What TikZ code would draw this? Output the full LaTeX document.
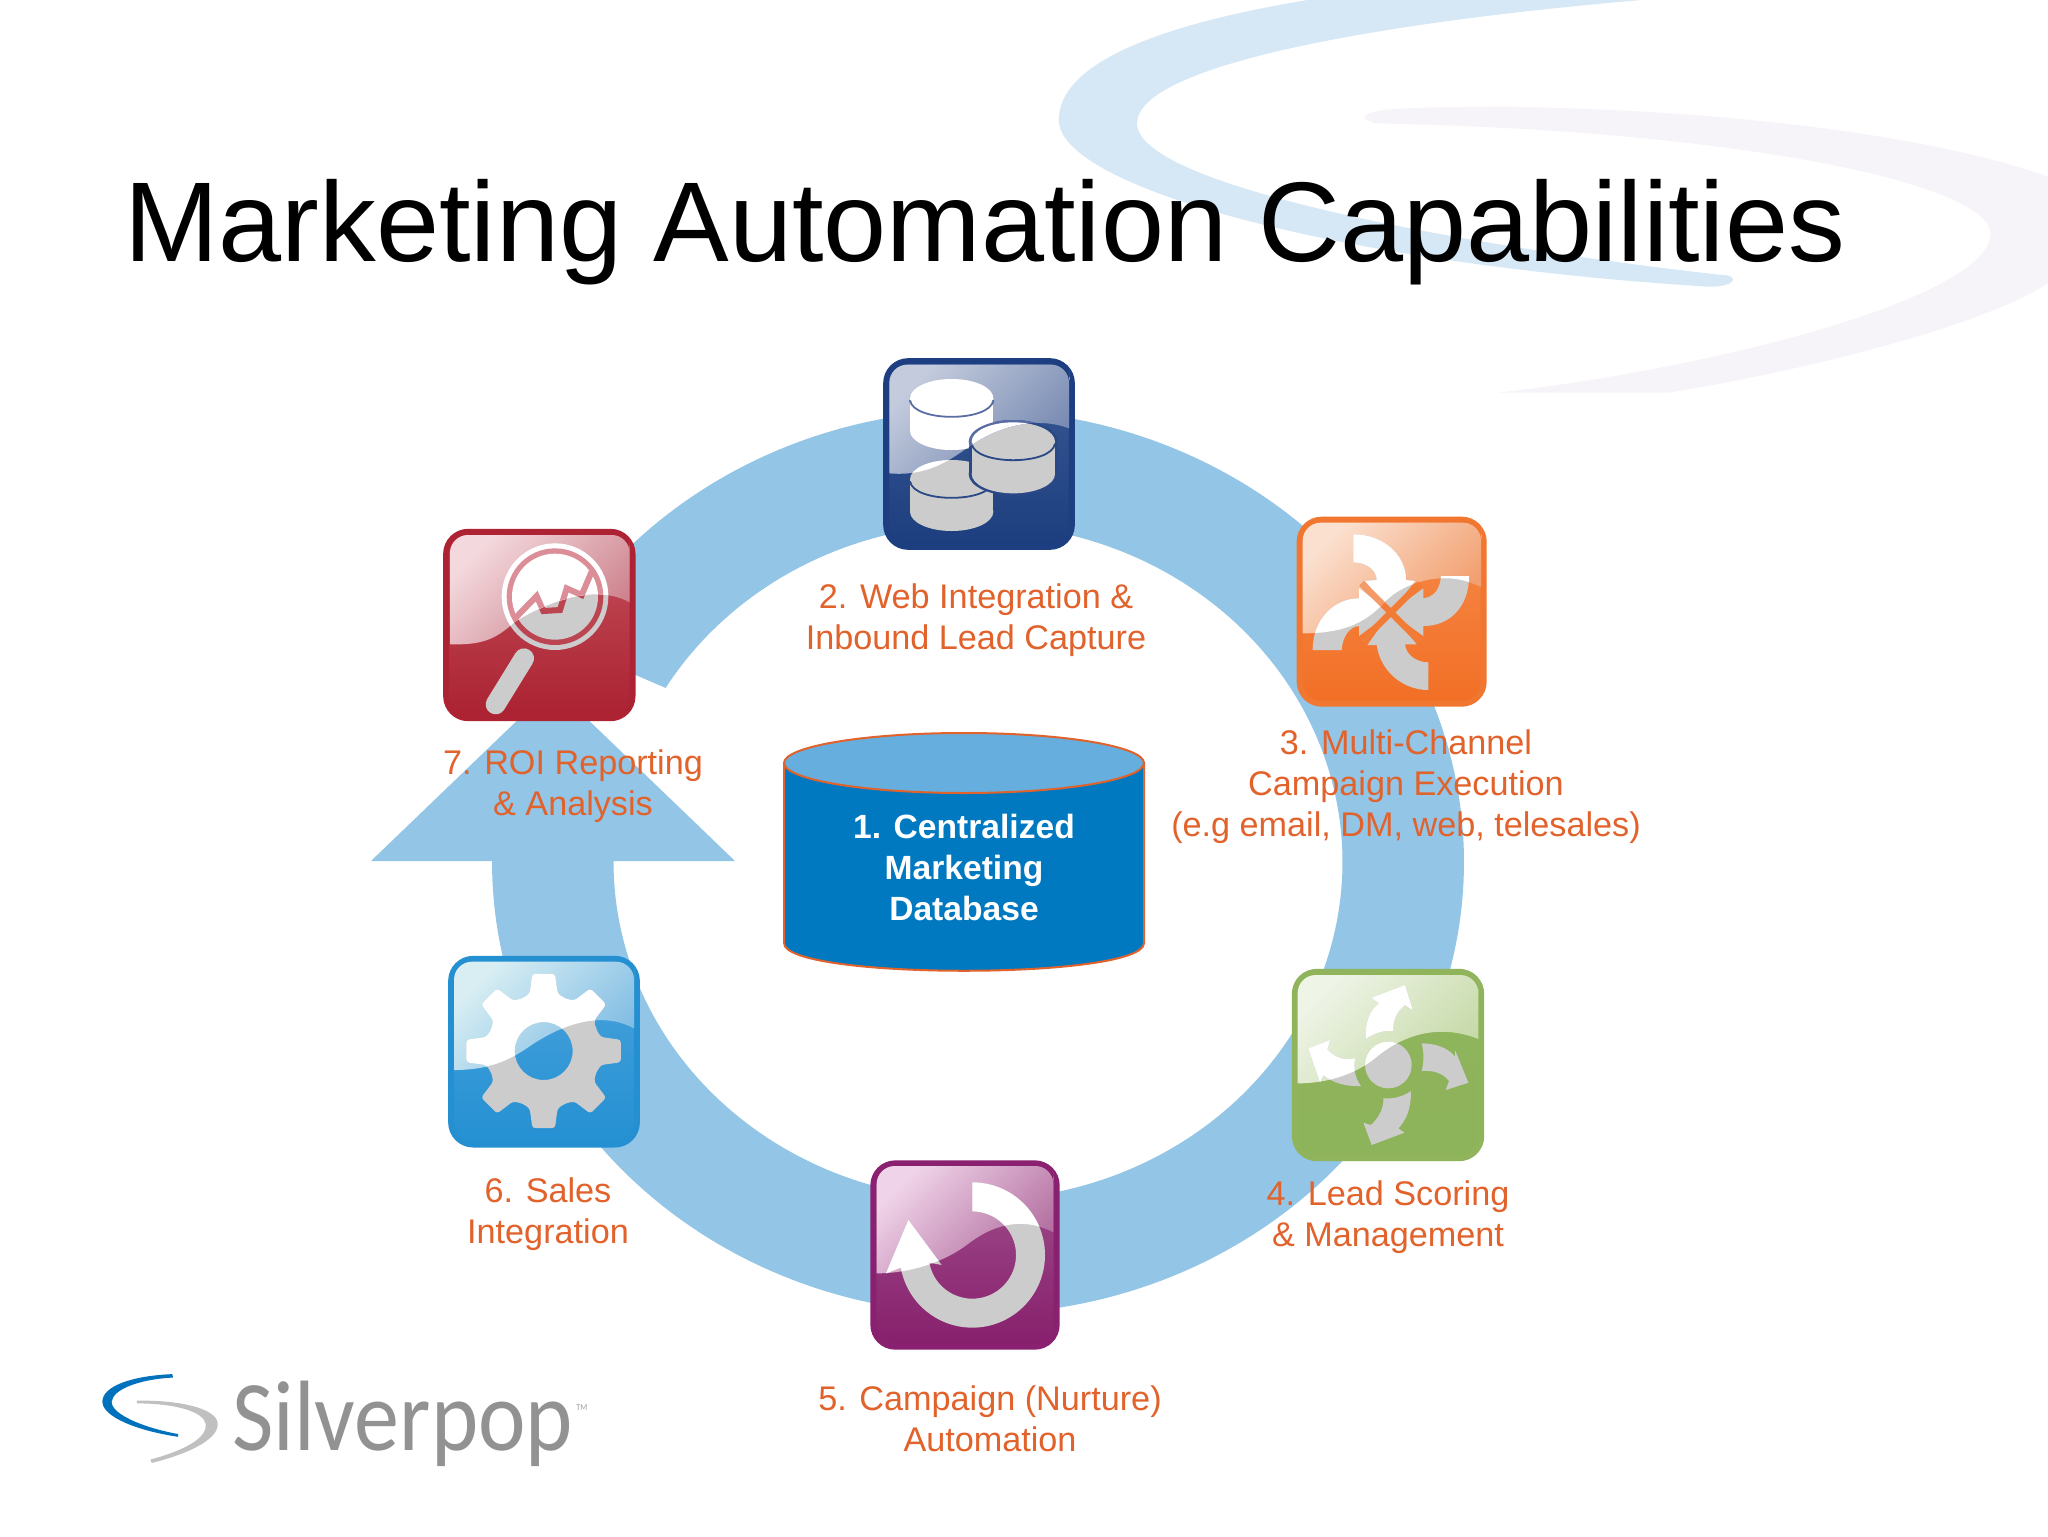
\documentclass[tikz,border=0pt]{standalone}
\usepackage{fontspec}
\setmainfont{Liberation Sans}
\newfontfamily\logofont[FakeStretch=0.9]{Carlito}
\definecolor{iconGrey}{HTML}{CCCCCC}
\definecolor{ringblue}{HTML}{92C5E6}
\definecolor{labelorange}{HTML}{E2622C}
\tikzset{
  px/.style={x=0.5pt,y=-0.5pt},
  zoomed/.style={shift={(#1)},x=0.16667pt,y=-0.16667pt},
  iconbox/.style={draw=icB,top color=icT,bottom color=icL,line width=3pt,rounded corners=11pt,inner sep=0pt,minimum size={#1/6*1pt-3pt}},
  steplabel/.style={text=labelorange,align=center,inner sep=0pt,font=\fontsize{17.1}{20.5}\selectfont},
}
\newcommand\glossicon[5]{%
  \node[iconbox=#5] (#1) at (#2) {};
  \shade[left color=glA,middle color=glB,right color=glC,shading angle=45] #3;
  #4{iconGrey}{acD}
  \begin{scope}\clip #3; #4{white}{acL}\end{scope}
}
\newcommand\diskshape[4]{%
  \fill[#3] (#1,#2) ellipse (125 and 58);
  \fill[#3] (#1-125,#2) rectangle (#1+125,#2+97);
  \fill[#3] (#1,#2+97) ellipse (125 and 58);
  \draw[#4,line width=0.9pt] (#1-125,#2+6) .. controls (#1-115,#2+72) and (#1+115,#2+72) .. (#1+125,#2+6);
}
\newcommand\contentB[2]{%
  \diskshape{275}{175}{#1}{#2}
  \diskshape{275}{418}{#1}{#2}
  \fill[#2] (460,305) ellipse (134 and 65);
  \fill[#2] (326,305) rectangle (594,402);
  \fill[#2] (460,402) ellipse (134 and 65);
  \diskshape{460}{305}{#1}{#2}
}
\newcommand\contentC[2]{%
  \fill[#1] (220,103) -- (220,187) .. controls (260,187) and (290,210) .. (290,240) -- (255,243) -- (332,337) -- (405,243) -- (378,240) .. controls (378,165) and (310,103) .. (220,103) -- cycle;
  \fill[#1] (567,228) -- (483,228) .. controls (480,265) and (465,290) .. (430,295) -- (430,265) -- (332,337) -- (430,408) -- (430,378) .. controls (510,378) and (567,320) .. (567,228) -- cycle;
  \fill[#1] (445,570) -- (445,487) .. controls (410,487) and (378,465) .. (375,433) -- (410,433) -- (332,337) -- (262,435) -- (290,435) .. controls (300,510) and (365,570) .. (445,570) -- cycle;
  \fill[#1] (98,450) -- (185,450) .. controls (187,415) and (205,380) .. (237,378) -- (237,408) -- (332,337) -- (237,265) -- (237,295) .. controls (165,295) and (98,355) .. (98,450) -- cycle;
  \draw[#2,line width=3.2pt] (245,250) -- (420,425);
  \draw[#2,line width=3.2pt] (420,250) -- (245,425);
}
\newcommand\contentD[2]{%
  \fill[#1] (340,330) circle (70);
  \fill[#1] (272,252) .. controls (270,200) and (285,165) .. (312,145) -- (290,128) -- (390,90) -- (413,165) -- (390,150) .. controls (365,170) and (353,195) .. (355,228) .. controls (325,225) and (295,235) .. (272,252) -- cycle;
  \fill[#1] (440,265) .. controls (485,265) and (520,280) .. (540,305) -- (540,285) -- (580,383) -- (512,405) -- (522,378) .. controls (505,355) and (475,345) .. (440,348) .. controls (447,320) and (447,290) .. (440,265) -- cycle;
  \fill[#1] (407,408) .. controls (410,455) and (395,495) .. (370,520) -- (388,533) -- (290,570) -- (265,503) -- (287,510) .. controls (310,490) and (327,460) .. (325,430) .. controls (355,432) and (385,425) .. (407,408) -- cycle;
  \fill[#1] (240,310) .. controls (205,318) and (175,305) .. (157,283) -- (165,255) -- (100,280) -- (135,382) -- (145,360) .. controls (175,385) and (215,395) .. (258,393) .. controls (240,370) and (235,340) .. (240,310) -- cycle;
}
\newcommand\contentE[2]{%
  \fill[#1] plot[variable=\ang,domain=-90:170,samples=70] ({367+218*cos(\ang)},{330+218*sin(\ang)}) -- (108,385) -- (175,225) -- (275,360) -- plot[variable=\ang,domain=170:-90,samples=70] ({367+131*cos(\ang)},{330+131*sin(\ang)}) -- cycle;
}
\newcommand\contentF[2]{%
  \begin{scope}[shift={(341,318)}]
  \fill[#1,even odd rule,rounded corners=1.5pt] (-22.5:170) \foreach \ang in {0,45,...,315} { -- (\ang-13.7:177) -- (\ang-8.3:234) -- (\ang+8.3:234) -- (\ang+13.7:177) -- (\ang+22.5:170)} -- cycle (0,0) circle (87);
  \end{scope}
}
\newcommand\contentG[2]{%
  \fill[#1] (390,245) circle (160);
  \fill[#2] (390,245) circle (145);
  \fill[#1] (390,245) circle (129);
  \draw[#2,line width=3pt] (272,308) -- (335,243) -- (355,288) -- (405,285) -- (425,220) -- (470,240) -- (500,170);
  \draw[#1,line width=10pt,line cap=round] (297,430) -- (212,568);
}
\def\glossB{(88,400) [rounded corners=9pt] -- (88,74) -- (627,74) -- (627,110) [sharp corners] -- (627,265) .. controls (520,225) and (400,265) .. (320,325) .. controls (270,360) and (200,410) .. (88,400) -- cycle}
\def\glossC{(68,400) [rounded corners=9pt] -- (68,68) -- (603,68) -- (603,110) [sharp corners] -- (603,262) .. controls (500,205) and (370,245) .. (310,310) .. controls (250,375) and (180,400) .. (68,400) -- cycle}
\def\glossD{(68,385) [rounded corners=9pt] -- (68,60) -- (610,60) -- (610,110) [sharp corners] -- (610,252) .. controls (480,200) and (370,250) .. (300,310) .. controls (250,350) and (170,385) .. (68,385) -- cycle}
\def\glossE{(80,385) [rounded corners=9pt] -- (80,63) -- (610,63) -- (610,110) [sharp corners] -- (610,262) .. controls (510,210) and (420,245) .. (350,300) .. controls (290,345) and (190,385) .. (80,385) -- cycle}
\def\glossF{(72,375) [rounded corners=9pt] -- (72,50) -- (612,50) -- (612,110) [sharp corners] -- (612,250) .. controls (510,195) and (390,240) .. (290,310) .. controls (230,350) and (170,375) .. (72,375) -- cycle}
\def\glossG{(75,388) [rounded corners=9pt] -- (75,60) -- (614,60) -- (614,110) [sharp corners] -- (614,262) .. controls (510,205) and (370,260) .. (270,320) .. controls (210,375) and (170,390) .. (75,388) -- cycle}
\begin{document}
\begin{tikzpicture}[px]
\useasboundingbox (0,0) rectangle (2048,1536);
\fill[white] (0,0) rectangle (2048,1536);
% background swooshes
\begin{scope}[shift={(1000,0)},x=0.3342pt,y=-0.16667pt]
  \fill[fill={rgb,255:red,246;green,244;blue,248}] (545,355) .. controls (545,325) and (600,322) .. (750,320) .. controls (1100,330) and (1400,410) .. (1568,530) -- (1568,850) .. controls (1450,1000) and (1150,1130) .. (1000,1178) -- (745,1178) .. controls (1050,1110) and (1480,900) .. (1482,700) .. controls (1480,550) and (1100,390) .. (560,370) -- cycle;
  \fill[fill={rgb,255:red,214;green,232;blue,245}] (460,0) .. controls (220,80) and (88,200) .. (88,360) .. controls (88,560) and (500,790) .. (1060,860) .. controls (1105,860) and (1105,825) .. (1080,825) .. controls (700,740) and (205,560) .. (205,370) .. controls (205,200) and (550,70) .. (960,0) -- cycle;
\end{scope}
\node[anchor=base west,inner sep=0pt,font=\fontsize{56.7}{60}\selectfont] (title) at (124,261) {Marketing Automation Capabilities};
% ring and arrow
\fill[ringblue] plot[variable=\ang,domain=182:-150.6,samples=240] ({978+486*cos(\ang)},{862+452*sin(\ang)}) -- plot[variable=\ang,domain=-149:182,samples=240] ({978+364.5*cos(\ang)},{862+338*sin(\ang)}) -- cycle;
\fill[ringblue] (371,861) -- (553,686) -- (735,861) -- cycle;
% database
\fill[fill={rgb,255:red,0;green,121;blue,193},draw=labelorange,line width=1pt] (784,763) -- (784,943) .. controls (784,980) and (1144,980) .. (1144,943) -- (1144,763) -- cycle;
\fill[fill={rgb,255:red,101;green,174;blue,222},draw=labelorange,line width=1pt] (964,763) ellipse (180 and 30);
\node[text=white,align=center,inner sep=0pt,font=\fontsize{16.8}{20.5}\bfseries\selectfont] (db) at (964,867) {1. Centralized\\Marketing\\Database};
% icon 2
\begin{scope}[zoomed={860,340}]
  \definecolor{icB}{HTML}{1D3E80}\definecolor{icT}{HTML}{3A5A95}\definecolor{icL}{HTML}{1D3E7E}
  \definecolor{glA}{HTML}{C3CBDD}\definecolor{glB}{HTML}{94A2C2}\definecolor{glC}{HTML}{7487B0}
  \definecolor{acD}{HTML}{2A4786}\definecolor{acL}{HTML}{5A6DA3}
  \glossicon{webicon}{357,342}{\glossB}{\contentB}{575}
\end{scope}
% icon 3
\begin{scope}[zoomed={1280,500}]
  \definecolor{icB}{HTML}{F1762F}\definecolor{icT}{HTML}{F58A4A}\definecolor{icL}{HTML}{F26F25}
  \definecolor{glA}{HTML}{FBE0CF}\definecolor{glB}{HTML}{F6B692}\definecolor{glC}{HTML}{F19A68}
  \definecolor{acD}{HTML}{F27B36}\definecolor{acL}{HTML}{F29A68}
  \glossicon{channelicon}{335,335}{\glossC}{\contentC}{570}
\end{scope}
% icon 4
\begin{scope}[zoomed={1275,955}]
  \definecolor{icB}{HTML}{8FB45C}\definecolor{icT}{HTML}{8FB45C}\definecolor{icL}{HTML}{8DB35B}
  \definecolor{glA}{HTML}{EEF4E6}\definecolor{glB}{HTML}{C8DBAB}\definecolor{glC}{HTML}{C5D9A6}
  \definecolor{acD}{HTML}{8DB35B}\definecolor{acL}{HTML}{C5D9A6}
  \glossicon{scoreicon}{339,330}{\glossD}{\contentD}{577}
\end{scope}
% icon 5
\begin{scope}[zoomed={850,1145}]
  \definecolor{icB}{HTML}{8A2070}\definecolor{icT}{HTML}{A0508D}\definecolor{icL}{HTML}{871F6C}
  \definecolor{glA}{HTML}{EFD3E8}\definecolor{glB}{HTML}{C58FB9}\definecolor{glC}{HTML}{B26D9F}
  \definecolor{acD}{HTML}{8A2070}\definecolor{acL}{HTML}{B26D9F}
  \glossicon{nurtureicon}{345,330}{\glossE}{\contentE}{568}
\end{scope}
% icon 6
\begin{scope}[zoomed={430,945}]
  \definecolor{icB}{HTML}{2490D2}\definecolor{icT}{HTML}{4AA3DC}\definecolor{icL}{HTML}{2490D2}
  \definecolor{glA}{HTML}{D8EEF3}\definecolor{glB}{HTML}{9CCDEA}\definecolor{glC}{HTML}{7FBCE4}
  \definecolor{acD}{HTML}{2490D2}\definecolor{acL}{HTML}{7FBCE4}
  \glossicon{salesicon}{342,320}{\glossF}{\contentF}{575}
\end{scope}
% icon 7
\begin{scope}[zoomed={425,515}]
  \definecolor{icB}{HTML}{AE2333}\definecolor{icT}{HTML}{C4505C}\definecolor{icL}{HTML}{AB2231}
  \definecolor{glA}{HTML}{F3D9DD}\definecolor{glB}{HTML}{DA9DA6}\definecolor{glC}{HTML}{CC7F8A}
  \definecolor{acD}{HTML}{BC4552}\definecolor{acL}{HTML}{DB8D98}
  \glossicon{roiicon}{343,330}{\glossG}{\contentG}{577}
\end{scope}
% labels
\node[steplabel] (lab2) at (976,620) {2. Web Integration \&\\Inbound Lead Capture};
\node[steplabel] (lab3) at (1406,787) {3. Multi-Channel\\Campaign Execution\\(e.g email, DM, web, telesales)};
\node[steplabel] (lab4) at (1388,1217) {4. Lead Scoring\\\& Management};
\node[steplabel] (lab5) at (990,1419) {5. Campaign (Nurture)\\Automation};
\node[steplabel] (lab6) at (548,1214) {6. Sales\\Integration};
\node[steplabel] (lab7) at (573,786) {7. ROI Reporting\\\& Analysis};
% logo
\begin{scope}[shift={(80,1350)},x=0.1722pt,y=-0.1722pt]
  \fill[fill={rgb,255:red,0;green,113;blue,188}] (268,70) .. controls (150,75) and (65,105) .. (65,150) .. controls (65,195) and (170,235) .. (285,252) -- (285,244) .. controls (180,225) and (90,185) .. (92,150) .. controls (95,115) and (170,85) .. (270,80) -- cycle;
  \fill[fill={rgb,255:red,192;green,192;blue,192}] (165,147) .. controls (290,145) and (400,170) .. (400,215) .. controls (400,265) and (300,305) .. (208,328) -- (205,318) .. controls (290,295) and (370,260) .. (365,215) .. controls (360,180) and (280,155) .. (165,155) -- cycle;
\end{scope}
\node[anchor=base west,inner sep=0pt,text={rgb,255:red,146;green,146;blue,146},font=\logofont\fontsize{50}{54}\selectfont] (logo) at (232,1450) {Silverpop};
\node[anchor=base west,inner sep=0pt,text={rgb,255:red,160;green,160;blue,160},font=\logofont\fontsize{4.5}{5}\selectfont] (tm) at (576,1410) {TM};
\end{tikzpicture}
\end{document}
